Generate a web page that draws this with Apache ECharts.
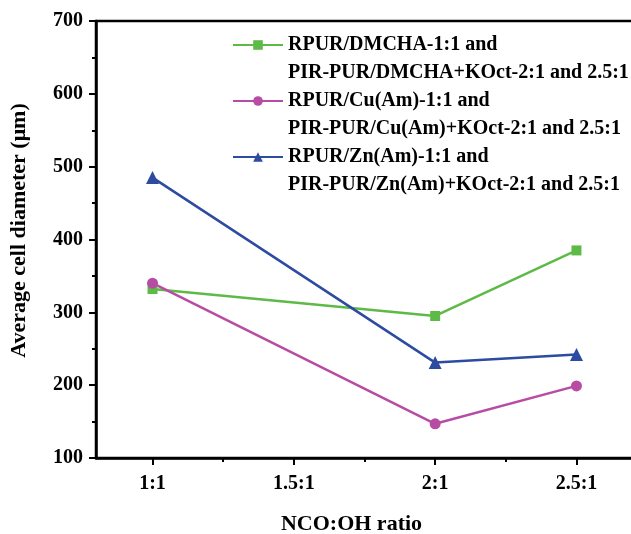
<!DOCTYPE html>
<html>
<head>
<meta charset="utf-8">
<script src="https://cdn.jsdelivr.net/npm/echarts@6/dist/echarts.min.js"></script>
<style>
  html, body { margin: 0; padding: 0; background: #fff; }
  #chart { width: 631px; height: 534px; }
</style>
</head>
<body>
<div id="chart"></div>
<script>
    // NCO:OH ratios where cell diameter was measured
    const ratios = [1, 2, 2.5];
    // tick positions and their labels on the ratio axis
    const tickValues = [1, 1.5, 2, 2.5];
    const tickLabels = ['1:1', '1.5:1', '2:1', '2.5:1'];
    const minorTickValues = [1.25, 1.75, 2.25];

    // average cell diameter (μm)
    const dmcha = [332, 295, 385];
    const cuAm = [340, 147, 199];
    const znAm = [485, 231, 242];

    const seriesNames = [
        'RPUR/DMCHA-1:1 and\nPIR-PUR/DMCHA+KOct-2:1 and 2.5:1',
        'RPUR/Cu(Am)-1:1 and\nPIR-PUR/Cu(Am)+KOct-2:1 and 2.5:1',
        'RPUR/Zn(Am)-1:1 and\nPIR-PUR/Zn(Am)+KOct-2:1 and 2.5:1'
    ];

    const font = "'Liberation Serif', 'DejaVu Serif', serif";
    const pairs = (ys) => ratios.map((x, i) => [x, ys[i]]);

    function lineSeries(name, ys, color, symbol, size) {
        return {
            name: name,
            type: 'line',
            data: pairs(ys),
            symbol: symbol,
            symbolSize: size,
            showSymbol: true,
            itemStyle: { color: color },
            lineStyle: { color: color, width: 2.5 },
            emphasis: { disabled: true },
            z: 3
        };
    }

    const chart = echarts.init(document.getElementById('chart'), null, { renderer: 'canvas' });

    chart.setOption({
        animation: false,
        backgroundColor: '#fff',
        grid: {
            left: 96, top: 21, width: 537, bottom: 76,
            outerBoundsMode: 'none',
            show: true, borderColor: '#000', borderWidth: 2.5
        },
        legend: {
            orient: 'vertical',
            left: 232, top: 3,
            padding: 0,
            itemWidth: 50, itemHeight: 12,
            itemGap: -28,
            // empty first line so the icon sits level with the first text line
            formatter: (name) => '\n' + name,
            textStyle: {
                fontFamily: font, fontWeight: 'bold', fontSize: 20,
                color: '#000', lineHeight: 28
            },
            data: seriesNames
        },
        xAxis: [{
            type: 'value',
            min: 0.8, max: 2.7,
            position: 'bottom',
            name: 'NCO:OH ratio',
            nameLocation: 'middle',
            nameGap: 55,
            nameTextStyle: {
                fontFamily: font, fontWeight: 'bold', fontSize: 22,
                color: '#000', padding: [0, 26, 0, 0]
            },
            axisLine: { lineStyle: { color: '#000', width: 2.5 } },
            axisTick: {
                customValues: tickValues, length: 7,
                lineStyle: { color: '#000', width: 2 }
            },
            axisLabel: {
                customValues: tickValues,
                formatter: (v) => tickLabels[tickValues.indexOf(v)],
                margin: 16,
                fontFamily: font, fontWeight: 'bold', fontSize: 20, color: '#000'
            },
            splitLine: { show: false }
        }, {
            type: 'value',
            min: 0.8, max: 2.7,
            position: 'bottom',
            axisLine: { show: false },
            axisTick: {
                customValues: minorTickValues, length: 4,
                lineStyle: { color: '#000', width: 2 }
            },
            axisLabel: { show: false },
            splitLine: { show: false }
        }],
        yAxis: {
            type: 'value',
            min: 100, max: 700, interval: 100,
            name: 'Average cell diameter (\u03bcm)',
            nameLocation: 'middle',
            nameGap: 66,
            nameTextStyle: {
                fontFamily: font, fontWeight: 'bold', fontSize: 22,
                color: '#000', padding: [0, 0, 0, 18]
            },
            axisLine: { lineStyle: { color: '#000', width: 2.5 } },
            axisTick: { length: 7, lineStyle: { color: '#000', width: 2 } },
            minorTick: { show: true, splitNumber: 2, length: 4, lineStyle: { color: '#000', width: 2 } },
            axisLabel: {
                margin: 13,
                fontFamily: font, fontWeight: 'bold', fontSize: 20, color: '#000'
            },
            splitLine: { show: false }
        },
        series: [
            lineSeries(seriesNames[0], dmcha, '#5EBA47', 'rect', 10),
            lineSeries(seriesNames[1], cuAm, '#B84CA4', 'circle', 11),
            lineSeries(seriesNames[2], znAm, '#2D4BA0', 'triangle', 13)
        ]
    });
</script>
</body>
</html>
